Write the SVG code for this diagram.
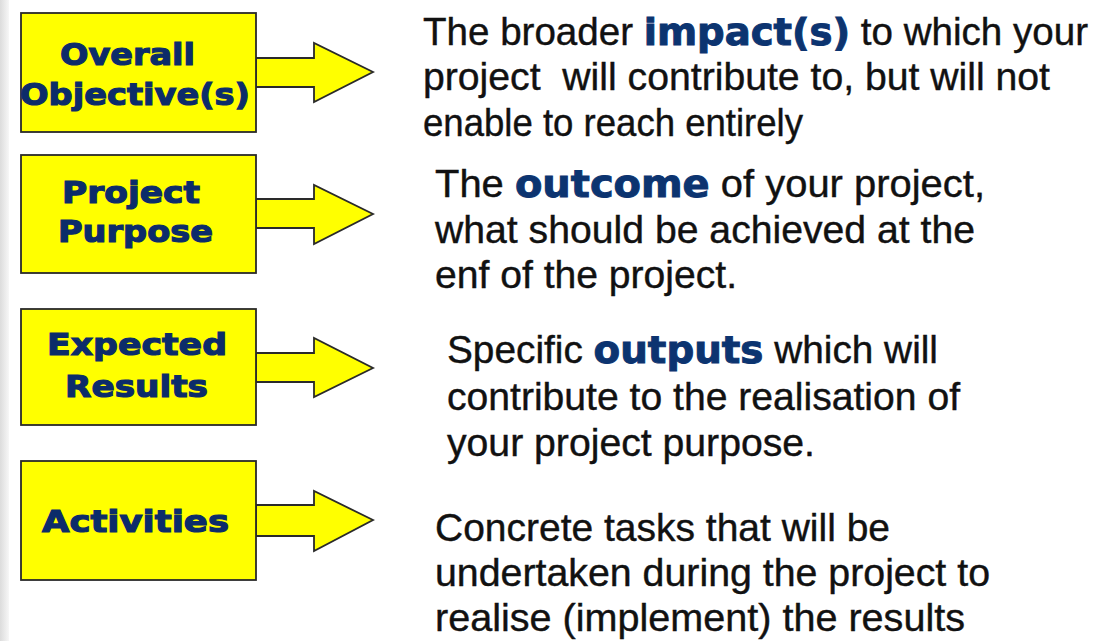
<svg xmlns="http://www.w3.org/2000/svg" width="1104" height="641" viewBox="0 0 1104 641">
<defs>
<linearGradient id="edge" x1="0" y1="0" x2="1" y2="0">
<stop offset="0" stop-color="#dcdcdc"/>
<stop offset="1" stop-color="#f7f7f7"/>
</linearGradient>
</defs>
<style>
.box{fill:#ffff00;stroke:#2a2a2a;stroke-width:1.8}
.arrow{fill:#ffff00;stroke:#2a2a2a;stroke-width:1.8;stroke-linejoin:miter}
.lbl{font-family:"DejaVu Sans","Liberation Sans",sans-serif;font-weight:bold;font-size:31px;fill:#0c2c6a;stroke:#0c2c6a;stroke-width:1.2}
.desc{font-family:"Liberation Sans",Arial,sans-serif;font-size:38px;fill:#111;stroke:#111;stroke-width:0.4;white-space:pre}
.em{font-family:"DejaVu Sans","Liberation Sans",sans-serif;font-weight:bold;fill:#0c3470;stroke:#0c3470;stroke-width:1}
</style>
<rect x="0" y="0" width="1104" height="641" fill="#ffffff"/>
<rect x="0" y="0" width="9" height="641" fill="url(#edge)"/>
<g id="connectors">
<polygon class="arrow" points="256,58 314,58 314,43 373,72 314,102 314,87 256,87"/>
<polygon class="arrow" points="256,199 314,199 314,185 373,214 314,244 314,228 256,228"/>
<polygon class="arrow" points="256,353 314,353 314,338 373,368 314,397 314,382 256,382"/>
<polygon class="arrow" points="256,505 314,505 314,491 373,520 314,551 314,536 256,536"/>
</g>
<g id="node-overall-objectives">
<rect class="box" x="21" y="13" width="235" height="119"/>
<text class="lbl" x="60" y="65" textLength="135" lengthAdjust="spacingAndGlyphs">Overall</text>
<text class="lbl" x="20" y="105" textLength="230" lengthAdjust="spacingAndGlyphs">Objective(s)</text>
</g>
<g id="node-project-purpose">
<rect class="box" x="21" y="155" width="235" height="118"/>
<text class="lbl" x="62" y="203" textLength="138" lengthAdjust="spacingAndGlyphs">Project</text>
<text class="lbl" x="58" y="242" textLength="155" lengthAdjust="spacingAndGlyphs">Purpose</text>
</g>
<g id="node-expected-results">
<rect class="box" x="21" y="309" width="235" height="116"/>
<text class="lbl" x="47" y="355" textLength="180" lengthAdjust="spacingAndGlyphs">Expected</text>
<text class="lbl" x="65" y="397" textLength="143" lengthAdjust="spacingAndGlyphs">Results</text>
</g>
<g id="node-activities">
<rect class="box" x="21" y="461" width="235" height="119"/>
<text class="lbl" x="42" y="532" textLength="187" lengthAdjust="spacingAndGlyphs">Activities</text>
</g>
<g id="desc-overall-objectives">
<text class="desc" x="423" y="45" textLength="665" lengthAdjust="spacingAndGlyphs">The broader <tspan class="em">impact(s)</tspan> to which your</text>
<text class="desc" x="423" y="90" textLength="627" lengthAdjust="spacingAndGlyphs">project  will contribute to, but will not</text>
<text class="desc" x="423" y="136" textLength="380" lengthAdjust="spacingAndGlyphs">enable to reach entirely</text>
</g>
<g id="desc-project-purpose">
<text class="desc" x="435" y="197" textLength="550" lengthAdjust="spacingAndGlyphs">The <tspan class="em">outcome</tspan> of your project,</text>
<text class="desc" x="435" y="243" textLength="540" lengthAdjust="spacingAndGlyphs">what should be achieved at the</text>
<text class="desc" x="435" y="288" textLength="302" lengthAdjust="spacingAndGlyphs">enf of the project.</text>
</g>
<g id="desc-expected-results">
<text class="desc" x="447" y="363" textLength="491" lengthAdjust="spacingAndGlyphs">Specific <tspan class="em">outputs</tspan> which will</text>
<text class="desc" x="447" y="410" textLength="513" lengthAdjust="spacingAndGlyphs">contribute to the realisation of</text>
<text class="desc" x="447" y="456" textLength="368" lengthAdjust="spacingAndGlyphs">your project purpose.</text>
</g>
<g id="desc-activities">
<text class="desc" x="435" y="541" textLength="455" lengthAdjust="spacingAndGlyphs">Concrete tasks that will be</text>
<text class="desc" x="435" y="586" textLength="555" lengthAdjust="spacingAndGlyphs">undertaken during the project to</text>
<text class="desc" x="435" y="631" textLength="530" lengthAdjust="spacingAndGlyphs">realise (implement) the results</text>
</g>
</svg>
